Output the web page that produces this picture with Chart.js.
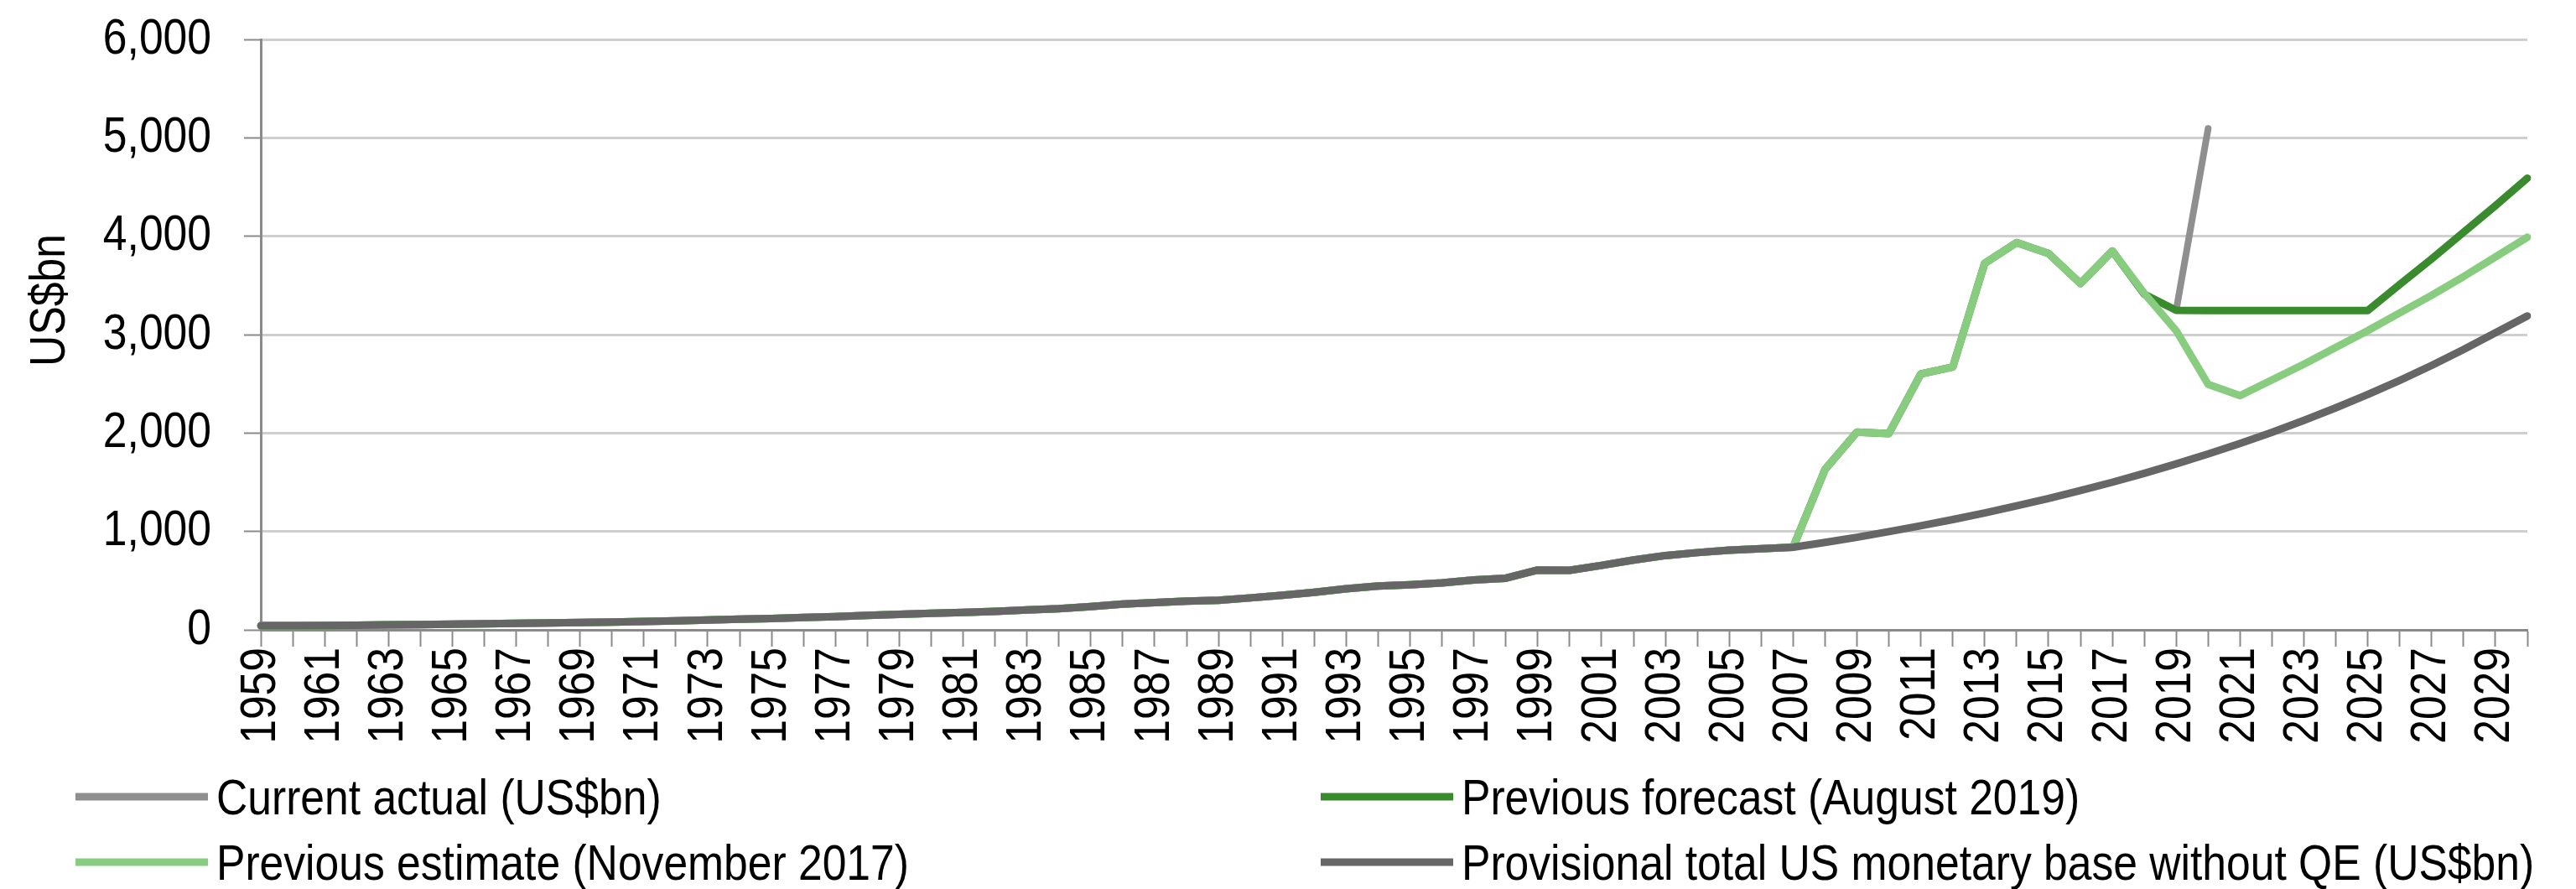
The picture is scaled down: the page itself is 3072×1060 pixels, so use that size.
<!DOCTYPE html>
<html>
<head>
<meta charset="utf-8">
<script src="https://cdn.jsdelivr.net/npm/chart.js@4/dist/chart.umd.min.js"></script>
<style>
    html, body { margin: 0; padding: 0; background: #fff; }
    #wrap { width: 3072px; height: 1060px; position: relative; }
</style>
</head>
<body>
<div id="wrap"><canvas id="baseChart"></canvas></div>
<script>
// Years on the x axis
var years = [
    "1959", "1960", "1961", "1962", "1963", "1964", "1965", "1966", "1967", "1968",
    "1969", "1970", "1971", "1972", "1973", "1974", "1975", "1976", "1977", "1978",
    "1979", "1980", "1981", "1982", "1983", "1984", "1985", "1986", "1987", "1988",
    "1989", "1990", "1991", "1992", "1993", "1994", "1995", "1996", "1997", "1998",
    "1999", "2000", "2001", "2002", "2003", "2004", "2005", "2006", "2007", "2008",
    "2009", "2010", "2011", "2012", "2013", "2014", "2015", "2016", "2017", "2018",
    "2019", "2020", "2021", "2022", "2023", "2024", "2025", "2026", "2027", "2028",
    "2029", "2030"
];

// Monetary base 1959-2007 (shared by all series before QE)
var baseHistory = [
    42, 43, 45, 47, 51, 54, 58, 61, 65, 70,
    74, 79, 85, 92, 100, 108, 116, 125, 135, 147,
    158, 168, 176, 188, 203, 215, 236, 262, 276, 292,
    300, 325, 352, 382, 418, 445, 458, 478, 508, 525,
    608, 605, 655, 710, 755, 785, 810, 825, 840
];

// 2008-2030 path without QE
var noQePath = [
    888, 941, 998, 1058, 1121, 1188, 1260, 1335, 1415, 1500,
    1590, 1686, 1787, 1894, 2008, 2128, 2256, 2391, 2535, 2687,
    2848, 3019, 3190
];

// 2008-2017 with QE (both previous estimates)
var qePath = [1630, 2010, 1995, 2600, 2670, 3725, 3935, 3825, 3520, 3850];

// 2018-2030 tails
var estimateTail = [3420, 3040, 2495, 2380, 2540, 2700, 2870, 3040, 3220, 3400, 3590, 3790, 3990];
var forecastTail = [3410, 3248, 3245, 3245, 3245, 3245, 3245, 3245, 3510, 3770, 4040, 4310, 4590];

// Current actual, 2019 and 2020
var actualYears = ["2019", "2020"];
var actualValues = [3248, 5095];

var yTicks = [0, 1000, 2000, 3000, 4000, 5000, 6000];

var FONT = "'Liberation Sans', Arial, sans-serif";
var AXIS_GREY = "#8a8a8a";

var actualSeries = years.map(function(y) {
    var k = actualYears.indexOf(y);
    return k >= 0 ? actualValues[k] : null;
});

// legend placed in two columns like the original
var legendSlots = [
    { index: 3, x: 90, y: 971 },
    { index: 2, x: 1575, y: 971 },
    { index: 1, x: 90, y: 1049 },
    { index: 0, x: 1575, y: 1049 }
];

var legendPlugin = {
    id: "gridLegend",
    afterDraw: function(chart) {
        var ctx = chart.ctx;
        ctx.save();
        ctx.font = "60px " + FONT;
        ctx.fillStyle = "#000";
        ctx.textBaseline = "alphabetic";
        ctx.textAlign = "left";
        legendSlots.forEach(function(slot) {
            var ds = chart.data.datasets[slot.index];
            ctx.strokeStyle = ds.borderColor;
            ctx.lineWidth = 9;
            ctx.beginPath();
            ctx.moveTo(slot.x, slot.y - 21);
            ctx.lineTo(slot.x + 158, slot.y - 21);
            ctx.stroke();
            ctx.fillText(ds.label, slot.x + 168, slot.y);
        });
        // y axis title
        ctx.translate(60, 358);
        ctx.rotate(-Math.PI / 2);
        ctx.textAlign = "center";
        ctx.textBaseline = "middle";
        ctx.fillText("US$bn", 0, 0);
        ctx.restore();
    }
};

var ctx = document.getElementById("baseChart").getContext("2d");

// no narrow font installed: squeeze text horizontally like Arial Narrow
var plainFillText = ctx.fillText;
ctx.fillText = function(text, x, y) {
    this.save();
    this.translate(x, y);
    this.scale(0.86, 1);
    plainFillText.call(this, text, 0, 0);
    this.restore();
};

new Chart(ctx, {
    type: "line",
    data: {
        labels: years,
        datasets: [{
            label: "Provisional total US monetary base without QE (US$bn)",
            data: baseHistory.concat(noQePath),
            borderColor: "#666666",
            borderWidth: 9
        }, {
            label: "Previous estimate (November 2017)",
            data: baseHistory.concat(qePath, estimateTail),
            borderColor: "#88cc80",
            borderWidth: 9
        }, {
            label: "Previous forecast (August 2019)",
            data: baseHistory.concat(qePath, forecastTail),
            borderColor: "#3a8a2e",
            borderWidth: 9
        }, {
            label: "Current actual (US$bn)",
            data: actualSeries,
            borderColor: "#8f8f8f",
            borderWidth: 8
        }]
    },
    options: {
        responsive: true,
        maintainAspectRatio: false,
        animation: false,
        devicePixelRatio: 1,
        elements: {
            point: { radius: 0, hoverRadius: 0 },
            line: { tension: 0, borderJoinStyle: "round", borderCapStyle: "round", fill: false }
        },
        layout: {
            padding: { left: 0, right: 58, top: 47, bottom: 169 }
        },
        plugins: {
            legend: { display: false },
            tooltip: { enabled: false }
        },
        scales: {
            x: {
                offset: false,
                afterFit: function(scale) {
                    scale.height = 140;
                    scale.paddingLeft = 0;
                    scale.paddingRight = 0;
                },
                grid: {
                    drawOnChartArea: false,
                    drawTicks: true,
                    tickLength: 20,
                    tickColor: AXIS_GREY,
                    tickWidth: 2
                },
                border: { display: true, color: AXIS_GREY, width: 3 },
                ticks: {
                    autoSkip: false,
                    maxRotation: 90,
                    minRotation: 90,
                    padding: 1,
                    color: "#000",
                    font: { family: FONT, size: 60 },
                    callback: function(val, i) {
                        return i % 2 === 0 ? this.getLabelForValue(val) : "";
                    }
                }
            },
            y: {
                min: 0,
                max: 6000,
                afterFit: function(scale) {
                    scale.width = 311;
                    scale.paddingTop = 0;
                    scale.paddingBottom = 0;
                },
                afterBuildTicks: function(scale) {
                    scale.ticks = yTicks.map(function(v) { return { value: v }; });
                },
                grid: {
                    color: "#cfcfcf",
                    lineWidth: 3,
                    drawTicks: true,
                    tickLength: 20,
                    tickColor: AXIS_GREY,
                    tickWidth: 2
                },
                border: { display: true, color: AXIS_GREY, width: 3 },
                ticks: {
                    padding: 39,
                    color: "#000",
                    font: { family: FONT, size: 60 },
                    callback: function(v) { return v.toLocaleString("en-US"); }
                }
            }
        }
    },
    plugins: [legendPlugin]
});
</script>
</body>
</html>
